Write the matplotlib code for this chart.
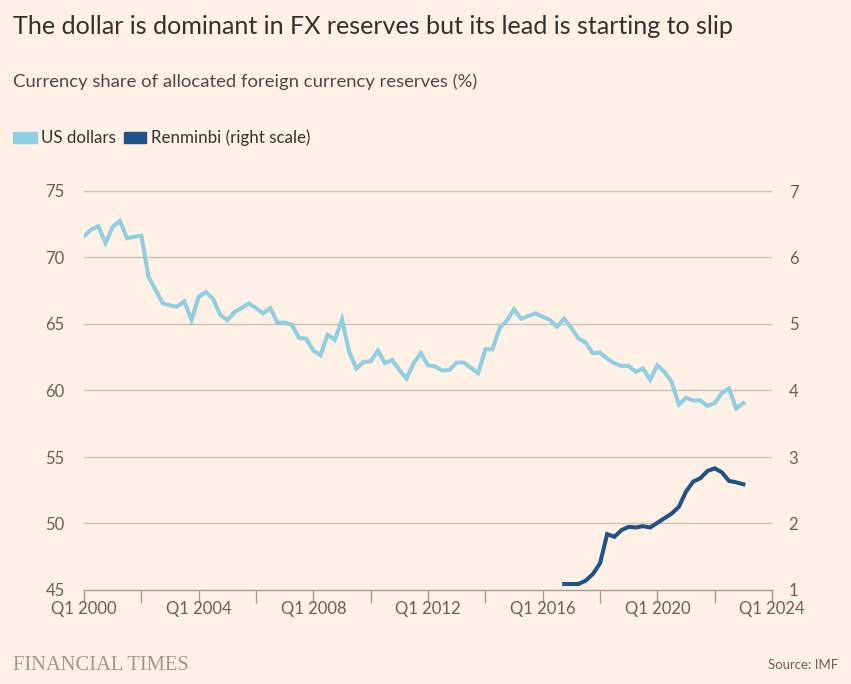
import matplotlib
matplotlib.use("Agg")
import matplotlib.pyplot as plt
import numpy as np
from matplotlib.patches import Rectangle

# ---- data ----
quarters_start_year = 2000
usd_share = [71.6, 72.1, 72.35, 71.1, 72.3, 72.75, 71.45, 71.55, 71.65, 68.55,
             67.55, 66.55, 66.4, 66.3, 66.7, 65.3, 67.05, 67.4, 66.9, 65.7,
             65.3, 65.9, 66.2, 66.55, 66.2, 65.8, 66.2, 65.1, 65.1, 64.95,
             63.95, 63.9, 63.0, 62.65, 64.2, 63.8, 65.35, 62.9, 61.65, 62.15,
             62.2, 63.0, 62.05, 62.3, 61.55, 60.9, 62.05, 62.8, 61.9, 61.8,
             61.5, 61.55, 62.1, 62.1, 61.7, 61.3, 63.1, 63.1, 64.7, 65.25,
             66.1, 65.4, 65.6, 65.8, 65.55, 65.3, 64.8, 65.4, 64.7, 63.9,
             63.6, 62.8, 62.85, 62.4, 62.05, 61.85, 61.85, 61.4, 61.65, 60.8,
             61.9, 61.4, 60.65, 58.95, 59.45, 59.25, 59.25, 58.85, 59.05, 59.8,
             60.15, 58.65, 59.05]
rmb_start_index = 67  # Q4 2016
rmb_share = [1.09, 1.09, 1.09, 1.14, 1.24, 1.40, 1.84, 1.80, 1.90, 1.95,
             1.94, 1.96, 1.94, 2.01, 2.08, 2.15, 2.25, 2.48, 2.63, 2.68,
             2.79, 2.83, 2.77, 2.64, 2.62, 2.59]
left_ticks = [45, 50, 55, 60, 65, 70, 75]
right_ticks = [1, 2, 3, 4, 5, 6, 7]
xtick_years = [2000, 2004, 2008, 2012, 2016, 2020, 2024]
xtick_labels = ["Q1 2000", "Q1 2004", "Q1 2008", "Q1 2012", "Q1 2016", "Q1 2020", "Q1 2024"]

title = "The dollar is dominant in FX reserves but its lead is starting to slip"
subtitle = "Currency share of allocated foreign currency reserves (%)"

# ---- style ----
BG = "#FFF1E5"
USD_C = "#8ecfe1"
RMB_C = "#1f5288"
TXT = "#33302E"
TICK = "#66605C"
GRID = "#cdc1b6"
FONT = ["Lato", "DejaVu Sans"]
plt.rcParams["font.family"] = FONT

W, H = 851, 684
fig = plt.figure(figsize=(W / 100, H / 100), dpi=100, facecolor=BG)
ax = fig.add_axes([84 / W, 1 - 590 / H, (772 - 84) / W, (590 - 191) / H])
ax.set_facecolor(BG)

x_usd = quarters_start_year + np.arange(len(usd_share)) * 0.25
x_rmb = quarters_start_year + (rmb_start_index + np.arange(len(rmb_share))) * 0.25

ax.set_xlim(2000, 2024)
ax.set_ylim(45, 75)
ax.set_yticks(left_ticks)
ax.set_yticklabels([str(t) for t in left_ticks])
for t in left_ticks[1:]:
    ax.axhline(t, color=GRID, lw=1.0, zorder=1)
ax.plot(x_usd, usd_share, color=USD_C, lw=2.9, solid_joinstyle="miter", zorder=3)

for s in ax.spines.values():
    s.set_visible(False)
ax.spines["bottom"].set_visible(True)
ax.spines["bottom"].set_color("#a59d95")
ax.spines["bottom"].set_linewidth(1.0)
ax.tick_params(axis="y", length=0, labelsize=12, labelcolor=TICK, pad=14)
ax.set_xticks(np.arange(2000, 2025, 2), minor=True)
ax.set_xticks(xtick_years)
ax.set_xticklabels(xtick_labels)
ax.tick_params(axis="x", which="both", length=9, color="#a59d95", width=1.0,
               labelsize=12, labelcolor=TICK, pad=-1)

ax2 = ax.twinx()
ax2.set_ylim(1, 7)
ax2.set_yticks(right_ticks)
ax2.set_yticklabels([str(t) for t in right_ticks])
for s in ax2.spines.values():
    s.set_visible(False)
ax2.tick_params(axis="y", length=0, labelsize=12, labelcolor=TICK, pad=12)
ax2.plot(x_rmb, rmb_share, color=RMB_C, lw=2.9, solid_joinstyle="miter", zorder=3)

# ---- texts ----
fig.text(13 / W, 1 - 26 / H, title, fontsize=18.1, color=TXT, va="center", ha="left")
fig.text(13 / W, 1 - 82 / H, subtitle, fontsize=13.3, color="#4d4845", va="center", ha="left")

# legend
fig.patches.append(Rectangle((13 / W, 1 - 143 / H), 24 / W, 11 / H, transform=fig.transFigure,
                             color=USD_C, figure=fig))
fig.text(41 / W, 1 - 138 / H, "US dollars", fontsize=12.2, color=TXT, va="center", ha="left")
fig.patches.append(Rectangle((124 / W, 1 - 143 / H), 22 / W, 11 / H, transform=fig.transFigure,
                             color=RMB_C, figure=fig))
fig.text(151 / W, 1 - 138 / H, "Renminbi (right scale)", fontsize=12.2, color=TXT, va="center", ha="left")

fig.text(13 / W, 1 - 665 / H, "FINANCIAL TIMES", fontsize=14.8, color="#a09890",
         family=["Liberation Serif", "DejaVu Serif"], va="center", ha="left")
fig.text(838 / W, 1 - 665 / H, "Source: IMF", fontsize=9.5, color=TICK, va="center", ha="right")

fig.savefig("out.png", dpi=100, facecolor=BG)
